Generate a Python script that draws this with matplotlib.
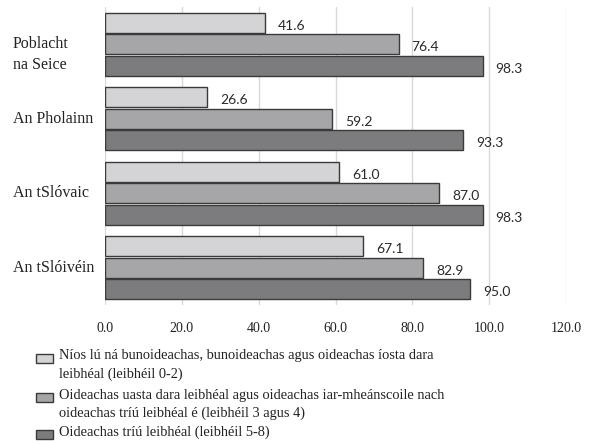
import matplotlib
matplotlib.use("Agg")
import matplotlib.pyplot as plt
from matplotlib.patches import Rectangle
import numpy as np

countries = ["Poblacht\nna Seice", "An Pholainn", "An tSlóvaic", "An tSlóivéin"]
low = [41.6, 26.6, 61.0, 67.1]
mid = [76.4, 59.2, 87.0, 82.9]
high = [98.3, 93.3, 98.3, 95.0]
series_labels = [
    "Níos lú ná bunoideachas, bunoideachas agus oideachas íosta dara\nleibhéal (leibhéil 0-2)",
    "Oideachas uasta dara leibhéal agus oideachas iar-mheánscoile nach\noideachas tríú leibhéal é (leibhéil 3 agus 4)",
    "Oideachas tríú leibhéal (leibhéil 5-8)",
]
xticks = [0, 20, 40, 60, 80, 100, 120]
colors = ["#d4d4d6", "#a6a6a8", "#7c7c7e"]

W, H = 592, 445
fig = plt.figure(figsize=(W / 100, H / 100), dpi=100)
ax = fig.add_axes([105 / W, 1 - 305 / H, (566 - 105) / W, (305 - 7) / H])

serif = ["Liberation Serif", "DejaVu Serif"]
sans = ["Lato", "DejaVu Sans"]

y = np.arange(len(countries))
bh = 0.265
off = 0.29
for i, (vals, c) in enumerate(zip([low, mid, high], colors)):
    pos = y + (i - 1) * off
    ax.barh(pos, vals, height=bh, color=c, edgecolor="#3a3a3a", linewidth=1.0, zorder=3)
    for p, v in zip(pos, vals):
        ax.text(v + 3.4, p + 0.04, f"{v:.1f}", va="center", ha="left",
                fontsize=10, family=sans, color="#2a2a2a")

ax.set_xlim(0, 120)
ax.set_ylim(len(countries) - 0.5, -0.5)
ax.set_xticks(xticks)
ax.set_xticklabels([f"{t:.1f}" for t in xticks], family=serif, fontsize=10, color="#222222")
ax.tick_params(axis="x", length=0, pad=12)
ax.set_yticks([])
ax.grid(axis="x", color="#d9d9d9", linewidth=1.0, zorder=0)
for s in ax.spines.values():
    s.set_visible(False)

for yi, name in zip(y, countries):
    nudge = 0.14 if "\n" in name else 0.0
    ax.text(-92 / 461, yi + nudge, name, transform=ax.get_yaxis_transform(),
            ha="left", va="center", fontsize=11.5, family=serif, color="#222222",
            linespacing=1.4)

# legend drawn manually
entries_y = [358, 397, 434]
for ly, c, lab in zip(entries_y, colors, series_labels):
    fig.patches.append(Rectangle((36 / W, 1 - (ly + 5) / H), 17 / W, 9 / H,
                                 transform=fig.transFigure, facecolor=c,
                                 edgecolor="#3a3a3a", linewidth=1.0))
    fig.text(59 / W, 1 - (ly - 8.5) / H, lab, ha="left", va="top", fontsize=10.4,
             family=serif, color="#222222", linespacing=1.5)

fig.savefig("out.png", dpi=100)
